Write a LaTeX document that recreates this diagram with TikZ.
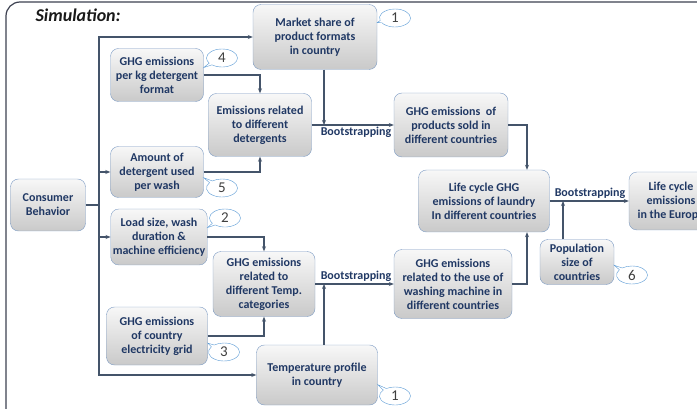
\documentclass[tikz,border=0pt]{standalone}
\usepackage{fontspec}
\setmainfont{Carlito}
\usetikzlibrary{arrows.meta,calc,shapes.callouts}
\definecolor{NavyText}{RGB}{32,56,100}
\definecolor{EdgeBlue}{RGB}{126,156,196}
\definecolor{LineSlate}{RGB}{68,84,106}
\definecolor{TagBlue}{RGB}{91,155,213}
\definecolor{TagGray}{RGB}{64,64,64}
\definecolor{FrameGray}{RGB}{60,64,80}
\tikzset{
  box/.style={draw=EdgeBlue,rounded corners=8pt,top color=gray!6,bottom color=gray!42,
    align=center,font=\bfseries\fontsize{12}{14}\selectfont,text=NavyText,inner sep=2pt},
  link/.style={draw=LineSlate,line width=1.2pt,-{Stealth[length=5pt,width=4pt]}},
  tag/.style={ellipse callout,draw=TagBlue,fill=white,minimum width=31pt,minimum height=18pt,
    inner sep=0pt,font=\fontsize{15}{15}\selectfont,text=TagGray},
  boot/.style={font=\bfseries\fontsize{12}{14}\selectfont,text=NavyText,inner sep=1pt}
}
\begin{document}
\begin{tikzpicture}[x=1pt,y=-1pt]
\useasboundingbox (0,0) rectangle (697,409);
\clip (0,0) rectangle (697,409);
\draw[FrameGray,line width=1.2pt,rounded corners=14pt] (6,2) rectangle (740,450);
\node[anchor=base west,font=\bfseries\itshape\fontsize{18}{20}\selectfont,text=black!90] (title) at (32,22) {Simulation:};

% input boxes
\node[box,minimum width=75pt,minimum height=52pt] (consumer) at (48,205) {Consumer\\Behavior};
\node[box,minimum width=93pt,minimum height=53pt] (perkg) at (157,75) {GHG emissions\\per kg detergent\\format};
\node[box,minimum width=93pt,minimum height=51pt] (amount) at (157,172) {Amount of\\detergent used\\per wash};
\node[box,minimum width=96pt,minimum height=56pt] (load) at (159,237) {Load size, wash\\duration \&\\machine efficiency};
\node[box,minimum width=101pt,minimum height=58pt] (grid) at (157,336) {GHG emissions\\of country\\electricity grid};
\node[box,minimum width=124pt,minimum height=65pt] (market) at (315,37) {Market share of\\product formats\\in country};
\node[box,minimum width=121pt,minimum height=60pt] (tempprof) at (317,375) {Temperature profile\\in country};
\node[box,minimum width=74pt,minimum height=45pt] (population) at (577,262) {Population\\size of\\countries};

% intermediate results
\node[box,minimum width=103pt,minimum height=63pt] (detergents) at (260,125) {Emissions related\\to different\\detergents};
\node[box,minimum width=102pt,minimum height=65pt] (tempcat) at (264,284) {GHG emissions\\related to\\different Temp.\\categories};
\node[box,minimum width=114pt,minimum height=64pt] (products) at (451,125) {GHG emissions\ \ of\\products sold in\\different countries};
\node[box,minimum width=118pt,minimum height=69pt] (washing) at (453,284) {GHG emissions\\related to the use of\\washing machine in\\different countries};
\node[box,minimum width=131pt,minimum height=62pt] (lifecycle) at (484,201) {Life cycle GHG\\emissions of laundry\\In different countries};
\node[box,minimum width=84pt,minimum height=58pt] (europe) at (671,201) {Life cycle\\emissions\\in the Europe};

% consumer behaviour feeds
\coordinate (trunk) at (99,205);
\draw[link,-] (consumer) -- (trunk);
\foreach \n in {market,amount,load,tempprof}
  \draw[link] (trunk) |- (\n);

% detergent branch
\draw[link] (perkg) -| (detergents);
\draw[link] (amount) -| (detergents);
\draw[link] (detergents) -- (products);
\coordinate (bs1) at (324,125);
\draw[link] (market.south -| bs1) -- (bs1);
\node[boot,below] (bootA) at (356,126) {Bootstrapping};

% washing machine branch
\draw[link] (load) -| (tempcat);
\draw[link] (grid) -| (tempcat);
\draw[link] (tempcat) -- (washing);
\coordinate (bs2) at (324,284);
\draw[link] (tempprof.north -| bs2) -- (bs2);
\node[boot,above] (bootB) at (356,283) {Bootstrapping};

% life cycle
\coordinate (jn) at (527,201);
\draw[link] (products) -| (jn |- lifecycle.north);
\draw[link] (washing) -| (jn |- lifecycle.south);
\draw[link] (lifecycle) -- (europe);
\coordinate (bs3) at (563,201);
\draw[link] (population.north -| bs3) -- (bs3);
\node[boot,above] (bootC) at (590,200) {Bootstrapping};

% data sources
\node[tag,callout absolute pointer={(market.13)}] (srcA) at (395,18) {1};
\node[tag,callout absolute pointer={(perkg.9)}] (srcB) at (222,58) {4};
\node[tag,callout absolute pointer={(amount.-7)}] (srcC) at (222,188) {5};
\node[tag,callout absolute pointer={(load.11)}] (srcD) at (225,218) {2};
\node[tag,callout absolute pointer={(grid.-8)}] (srcE) at (224,352) {3};
\node[tag,callout absolute pointer={(tempprof.-9)}] (srcF) at (395,396) {1};
\node[tag,callout absolute pointer={(population.-5)}] (srcG) at (632,275) {6};
\end{tikzpicture}
\end{document}
